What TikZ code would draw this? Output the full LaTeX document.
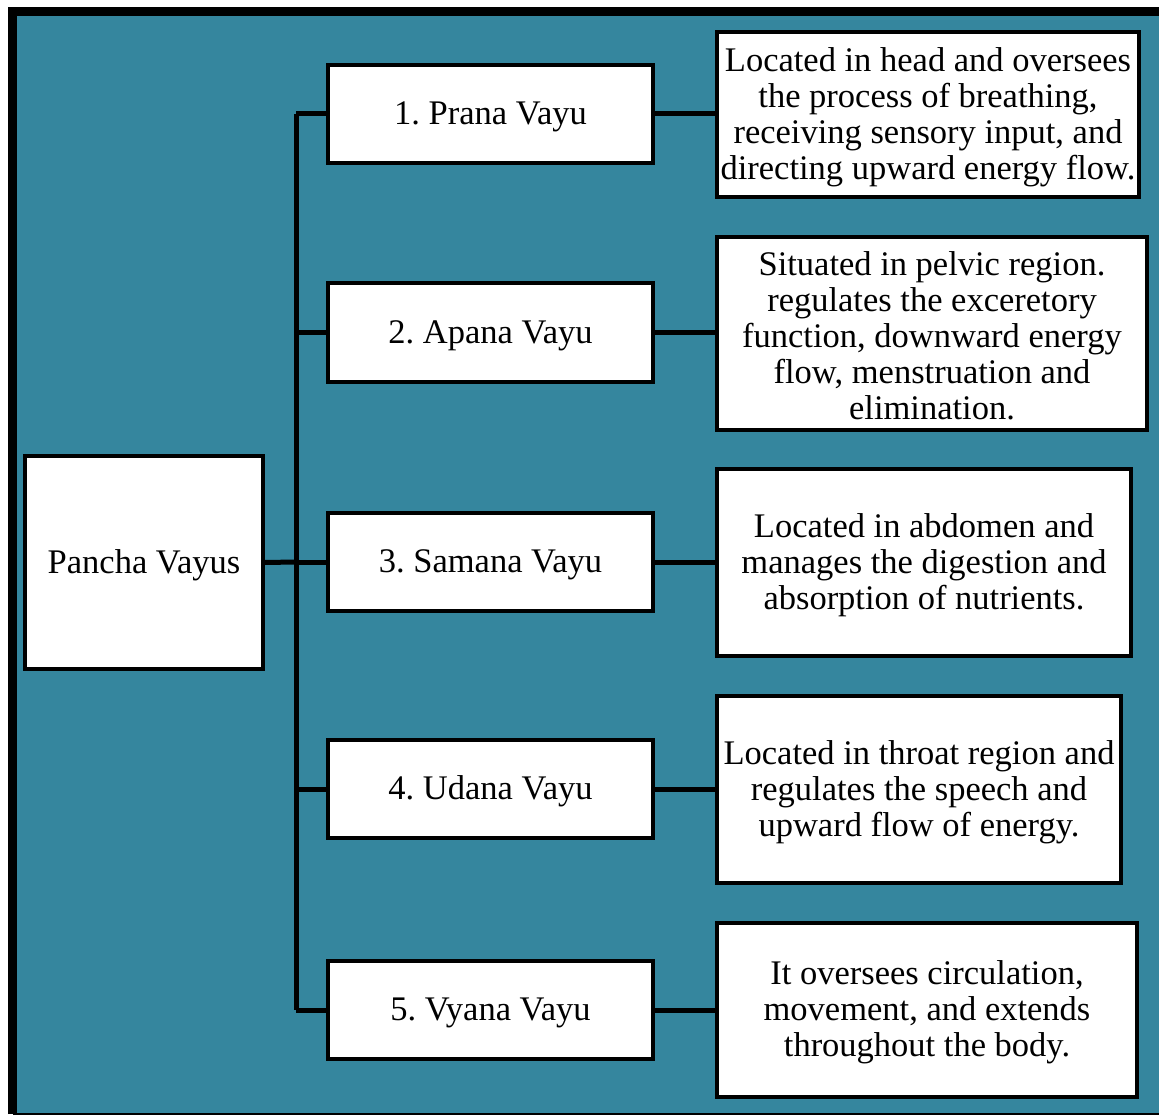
\documentclass[tikz,border=0pt]{standalone}
\usepackage{fontspec}
\setmainfont{Liberation Serif}
\definecolor{tealbg}{HTML}{35869E}
\newcommand\firststrut{\rule{0pt}{29pt}}
\begin{document}
\frenchspacing
\begin{tikzpicture}[x=1pt,y=-1pt,
  box/.style={draw=black,line width=4pt,fill=white,inner sep=0pt,font=\fontsize{34.5}{36}\selectfont},
  single/.style={box,execute at begin node={\firststrut}},
  conn/.style={line width=5pt}]
\useasboundingbox (0,0) rectangle (1159,1115);
\fill[white] (0,0) rectangle (1159,1115);
\fill[tealbg] (13,12) rectangle (1159,1114);
\draw[line width=9pt] (12.5,1114) -- (12.5,11.5) -- (1159,11.5);
\draw[line width=2pt] (13,1114) -- (1159,1114);
% left node
\node[single,minimum width=238pt,minimum height=213pt] (pv) at (144,562.5) {Pancha Vayus};
% middle nodes
\node[single,minimum width=325pt,minimum height=98pt] (m1) at (490.5,114) {1. Prana Vayu};
\node[single,minimum width=325pt,minimum height=98pt] (m2) at (490.5,332.5) {2. Apana Vayu};
\node[single,minimum width=325pt,minimum height=98pt] (m3) at (490.5,562) {3. Samana Vayu};
\node[single,minimum width=325pt,minimum height=98pt] (m4) at (490.5,789) {4. Udana Vayu};
\node[single,minimum width=325pt,minimum height=98pt] (m5) at (490.5,1010) {5. Vyana Vayu};
% right nodes
\node[box,minimum width=422pt,minimum height=165pt,align=center] (d1) at (928,114.5) {\firststrut Located in head and oversees\\the process of breathing,\\receiving sensory input, and\\directing upward energy flow.};
\node[box,minimum width=430pt,minimum height=193pt,align=center] (d2) at (932,333.5) {\firststrut Situated in pelvic region.\\regulates the exceretory\\function, downward energy\\flow, menstruation and\\elimination.};
\node[box,minimum width=414pt,minimum height=187pt,align=center] (d3) at (924,562.5) {\firststrut Located in abdomen and\\manages the digestion and\\absorption of nutrients.};
\node[box,minimum width=404pt,minimum height=187pt,align=center] (d4) at (919,789.5) {\firststrut Located in throat region and\\regulates the speech and\\upward flow of energy.};
\node[box,minimum width=420pt,minimum height=174pt,align=center] (d5) at (927,1010) {\firststrut It oversees circulation,\\movement, and extends\\throughout the body.};
% trunk
\coordinate (tt) at (296,114);
\coordinate (tb) at (296,1010);
\coordinate (tm) at (296,562);
\draw[conn] (tt) -- (tb);
\draw[conn] (pv.east) -- (tm);
\foreach \i in {1,...,5} {
  \draw[conn] (tt |- m\i.west) -- (m\i.west);
  \draw[conn] (m\i.east) -- (m\i.east -| d\i.west);
}
\end{tikzpicture}
\end{document}
